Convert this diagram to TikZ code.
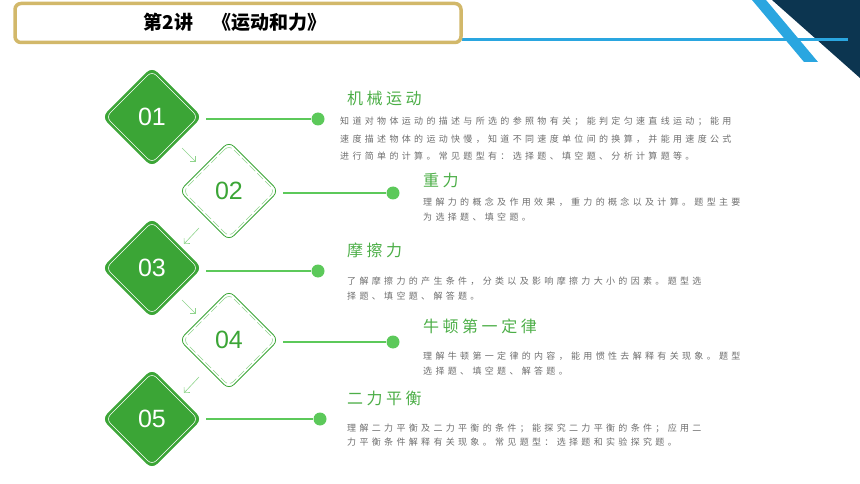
\documentclass[tikz,border=0pt]{standalone}
\usetikzlibrary{arrows.meta,calc}
\usepackage{fontspec}
\setmainfont{Noto Sans CJK SC}
\newfontfamily\numfont{Liberation Sans}
\newfontfamily\bodyfont[LetterSpace=37]{Noto Sans CJK SC}
\newfontfamily\titlefont[LetterSpace=22]{Noto Sans CJK SC}
\definecolor{gr}{HTML}{3BA536}
\definecolor{lg}{HTML}{8FD48C}
\definecolor{dot}{HTML}{5CC95A}
\definecolor{gold}{HTML}{D2B86A}
\definecolor{navy}{HTML}{0C3550}
\definecolor{sky}{HTML}{2AA6E0}
\definecolor{txt}{HTML}{6E6E6E}
\begin{document}
\begin{tikzpicture}[x=1pt,y=-1pt,
  dfill/.style={draw=gr,fill=gr,rotate=45,minimum size=70pt,rounded corners=7pt,inner sep=0,line width=0.8pt},
  dfillin/.style={draw=white,rotate=45,minimum size=65pt,rounded corners=6pt,inner sep=0,line width=0.6pt},
  dline/.style={draw=gr,fill=white,rotate=45,minimum size=70pt,rounded corners=7pt,inner sep=0,line width=0.8pt},
  dlinein/.style={draw=lg,dashed,dash pattern=on 8pt off 3pt,rotate=45,minimum size=65pt,rounded corners=6pt,inner sep=0,line width=0.6pt},
  numw/.style={text=white,font=\numfont\fontsize{25}{25}\selectfont},
  numg/.style={text=gr,font=\numfont\fontsize{25}{25}\selectfont},
  conn/.style={draw=dot,line width=2.2pt},
  dotn/.style={circle,fill=dot,minimum size=13pt,inner sep=0},
  ttl/.style={anchor=west,inner sep=0,text=gr!80!lg,font=\titlefont\fontsize{16}{16}\selectfont},
  bdy/.style={anchor=west,inner sep=0,text=txt,font=\bodyfont\fontsize{9}{9}\selectfont},
  sarr/.style={draw=lg,line width=0.6pt,-{Straight Barb[length=4pt]}}]
\useasboundingbox (0,0) rectangle (860,484);
% top right decoration
\fill[navy] (772,0) -- (860,0) -- (860,78) -- cycle;
\fill[sky] (752,0) -- (766,0) -- (818,62) -- (804,62) -- cycle;
\draw[sky,line width=3pt] (462,40) -- (848,40);
\node[draw=gold,line width=3.5pt,rounded corners=6pt,fill=white,minimum width=446pt,minimum height=39pt,inner sep=0] (hdr) at (238,23) {};
\node[font=\fontsize{19}{19}\selectfont\bfseries] (htxt) at (235,22) {第2讲\quad《运动和力》};
% diamonds
\node[dfill] (d1) at (152,117) {}; \node[dfillin] (d1i) at (152,117) {}; \node[numw] (n1) at (152,117) {01};
\node[dline] (d2) at (229,191) {}; \node[dlinein] (d2i) at (229,191) {}; \node[numg] (n2) at (229,191) {02};
\node[dfill] (d3) at (152,268) {}; \node[dfillin] (d3i) at (152,268) {}; \node[numw] (n3) at (152,268) {03};
\node[dline] (d4) at (229,340) {}; \node[dlinein] (d4i) at (229,340) {}; \node[numg] (n4) at (229,340) {04};
\node[dfill] (d5) at (152,419) {}; \node[dfillin] (d5i) at (152,419) {}; \node[numw] (n5) at (152,419) {05};
% small arrows
\coordinate (a1s) at (182,148); \coordinate (a1e) at (196,162);
\coordinate (a2s) at (199,228); \coordinate (a2e) at (184,244);
\coordinate (a3s) at (182,300); \coordinate (a3e) at (196,314);
\coordinate (a4s) at (199,377); \coordinate (a4e) at (184,393);
\draw[sarr] (a1s) -- (a1e); \draw[sarr] (a2s) -- (a2e);
\draw[sarr] (a3s) -- (a3e); \draw[sarr] (a4s) -- (a4e);
% connectors and dots
\node[dotn] (p1) at (318,119) {}; \draw[conn] ($(d1.center)+(54,2)$) -- (p1);
\node[dotn] (p2) at (393,193) {}; \draw[conn] ($(d2.center)+(54,2)$) -- (p2);
\node[dotn] (p3) at (318,271) {}; \draw[conn] ($(d3.center)+(54,3)$) -- (p3);
\node[dotn] (p4) at (393,342) {}; \draw[conn] ($(d4.center)+(54,2)$) -- (p4);
\node[dotn] (p5) at (320,419) {}; \draw[conn] ($(d5.center)+(54,0)$) -- (p5);
% texts
\node[ttl] (t1) at (347,98) {机械运动};
\node[bdy] (b1a) at (340,121) {知道对物体运动的描述与所选的参照物有关；能判定匀速直线运动；能用};
\node[bdy] (b1b) at (340,139) {速度描述物体的运动快慢，知道不同速度单位间的换算，并能用速度公式};
\node[bdy] (b1c) at (340,156) {进行简单的计算。常见题型有：选择题、填空题、分析计算题等。};
\node[ttl] (t2) at (423,180) {重力};
\node[bdy] (b2a) at (423,202) {理解力的概念及作用效果，重力的概念以及计算。题型主要};
\node[bdy] (b2b) at (423,217) {为选择题、填空题。};
\node[ttl] (t3) at (347,250) {摩擦力};
\node[bdy] (b3a) at (347,281) {了解摩擦力的产生条件，分类以及影响摩擦力大小的因素。题型选};
\node[bdy] (b3b) at (347,296) {择题、填空题、解答题。};
\node[ttl] (t4) at (423,326) {牛顿第一定律};
\node[bdy] (b4a) at (423,356) {理解牛顿第一定律的内容，能用惯性去解释有关现象。题型};
\node[bdy] (b4b) at (423,371) {选择题、填空题、解答题。};
\node[ttl] (t5) at (347,398) {二力平衡};
\node[bdy] (b5a) at (347,428) {理解二力平衡及二力平衡的条件；能探究二力平衡的条件；应用二};
\node[bdy] (b5b) at (347,442) {力平衡条件解释有关现象。常见题型：选择题和实验探究题。};
\end{tikzpicture}
\end{document}
